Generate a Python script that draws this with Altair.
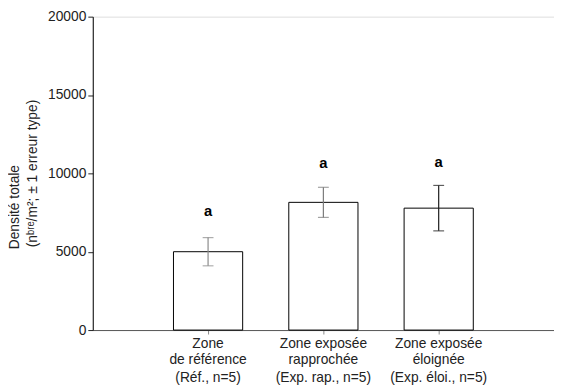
import altair as alt
import pandas as pd

categories = ["Zone\nde référence", "Zone exposée\nrapprochée", "Zone exposée\néloignée"]
n_labels = ["(Réf., n=5)", "(Exp. rap., n=5)", "(Exp. éloi., n=5)"]
means = [5000, 8150, 7780]
errors = [900, 960, 1450]
letters = ["a", "a", "a"]
letter_pos = [7570, 10650, 10750]
err_colors = ["#8a8a8a", "#7a7a7a", "#1a1a1a"]
y_ticks = [0, 5000, 10000, 15000, 20000]
title_lines = ["Densité totale", "(nᵇʳᵉ/m²; ± 1 erreur type)"]

df = pd.DataFrame({
    "cat": categories,
    "nlab": n_labels,
    "mean": means,
    "lo": [m - e for m, e in zip(means, errors)],
    "hi": [m + e for m, e in zip(means, errors)],
    "letter": letters,
    "lpos": letter_pos,
    "ecol": err_colors,
})

W, H = 468, 318
FONT = "Liberation Sans"

xscale = alt.Scale(domain=categories, paddingInner=0.4, paddingOuter=0.7)
yscale = alt.Scale(domain=[0, 20000], nice=False)

x_enc = alt.X("cat:N", scale=xscale, sort=categories, axis=alt.Axis(
    title=None, labelAngle=0, labelExpr="split(datum.value, '\\n')",
    labelFont=FONT, labelFontSize=14, labelColor="#222", labelLineHeight=16,
    labelBaseline="top", labelPadding=3, tickSize=4, tickColor="#888",
    domainColor="#555", labelLimit=200))

base = alt.Chart(df)

bars = base.mark_bar(fill="white", stroke="black", strokeWidth=1).encode(
    x=x_enc,
    y=alt.Y("mean:Q", scale=yscale, axis=alt.Axis(
        title=None, values=y_ticks, format="d", grid=False, tickSize=5, tickColor="#222",
        domainColor="black", labelFont=FONT, labelFontSize=14, labelColor="#222",
        labelPadding=2)),
)

rules = base.mark_rule(strokeWidth=1.2).encode(
    x=alt.X("cat:N", scale=xscale, sort=categories),
    y=alt.Y("lo:Q", scale=yscale),
    y2="hi:Q",
    color=alt.Color("ecol:N", scale=None),
)
cap_lo = base.mark_tick(orient="horizontal", size=11, thickness=1.2).encode(
    x=alt.X("cat:N", scale=xscale, sort=categories),
    y=alt.Y("lo:Q", scale=yscale),
    color=alt.Color("ecol:N", scale=None),
)
cap_hi = base.mark_tick(orient="horizontal", size=11, thickness=1.2).encode(
    x=alt.X("cat:N", scale=xscale, sort=categories),
    y=alt.Y("hi:Q", scale=yscale),
    color=alt.Color("ecol:N", scale=None),
)
letter_txt = base.mark_text(font=FONT, fontSize=15, fontWeight="bold", color="black",
                            baseline="middle").encode(
    x=alt.X("cat:N", scale=xscale, sort=categories),
    y=alt.Y("lpos:Q", scale=yscale),
    text="letter:N",
)
nlab_txt = base.mark_text(font=FONT, fontSize=14, color="#222", baseline="middle").encode(
    x=alt.X("cat:N", scale=xscale, sort=categories),
    y=alt.value(H + 49),
    text="nlab:N",
)

title_df = pd.DataFrame({"t": title_lines, "xp": [-79, -61], "yp": [236, 234]})
ytitle = alt.Chart(title_df).mark_text(font=FONT, fontSize=14, color="#222", angle=270,
                                       align="left", baseline="middle").encode(
    x=alt.X("xp:Q", scale=None),
    y=alt.Y("yp:Q", scale=None),
    text="t:N",
)

chart = alt.layer(bars, rules, cap_lo, cap_hi, letter_txt, nlab_txt, ytitle).properties(
    width=W, height=H,
    autosize=alt.AutoSizeParams(type="none"),
    padding={"left": 86, "top": 6, "right": 0, "bottom": 56},
).configure_view(stroke=None).configure(background="white")

chart.save("out.html", embed_options={"renderer": "svg", "actions": False})
